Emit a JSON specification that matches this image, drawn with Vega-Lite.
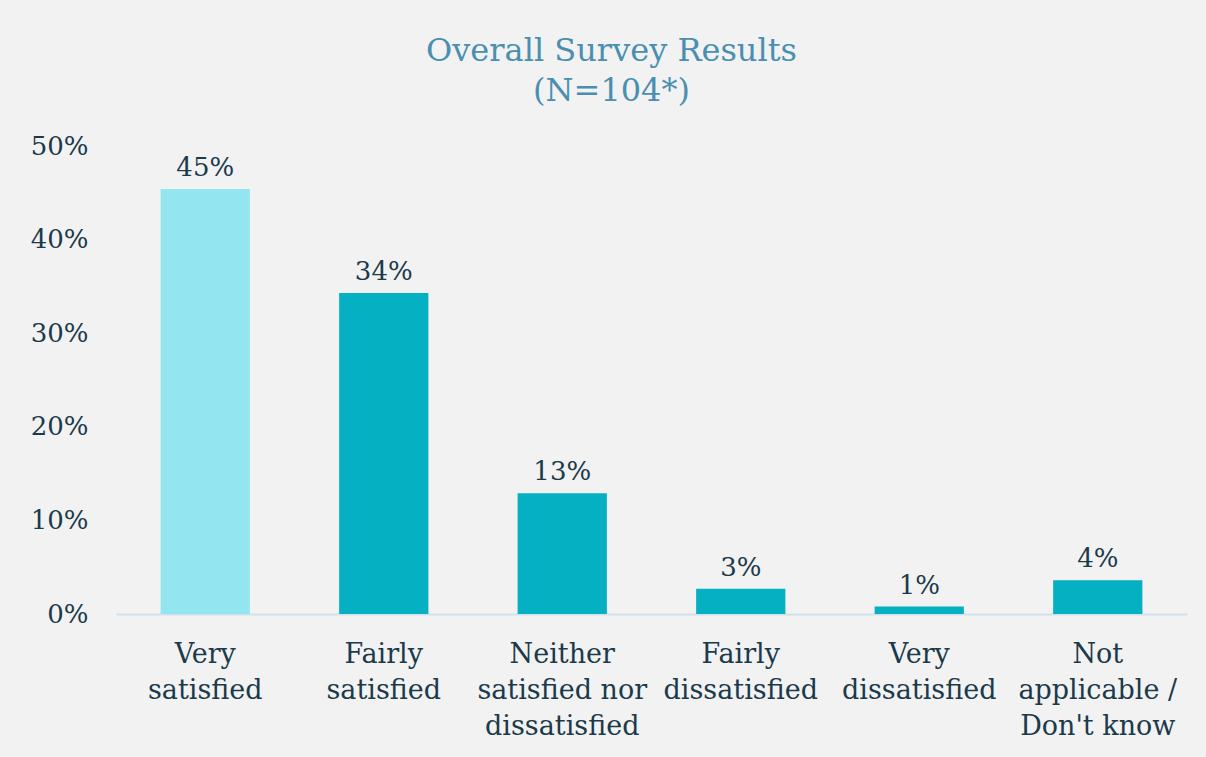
{
  "$schema": "https://vega.github.io/schema/vega-lite/v6.json",
  "autosize": {"type": "none"},
  "padding": {"left": 116, "top": 146, "right": 19, "bottom": 143},
  "width": 1071,
  "height": 468,
  "background": "#f2f2f2",
  "config": {"view": {"stroke": null}, "font": "DejaVu Serif"},
  "title": {
    "text": ["Overall Survey Results", "(N=104*)"],
    "font": "DejaVu Serif",
    "fontSize": 32,
    "fontWeight": "normal",
    "color": "#4a8fb0",
    "lineHeight": 40,
    "anchor": "middle",
    "dx": -40,
    "offset": 25
  },
  "data": {
    "values": [
      {"category": "Very satisfied", "value": 0.454, "group": "a"},
      {"category": "Fairly satisfied", "value": 0.343, "group": "b"},
      {"category": "Neither satisfied nor dissatisfied", "value": 0.129, "group": "b"},
      {"category": "Fairly dissatisfied", "value": 0.027, "group": "b"},
      {"category": "Very dissatisfied", "value": 0.008, "group": "b"},
      {"category": "Not applicable / Don't know", "value": 0.036, "group": "b"}
    ]
  },
  "encoding": {
    "x": {
      "field": "category",
      "type": "nominal",
      "sort": null,
      "scale": {"paddingInner": 0.5, "paddingOuter": 0.25},
      "axis": {
        "title": null,
        "labelAngle": 0,
        "labelFontSize": 27,
        "labelColor": "#1b3a4b",
        "labelFont": "DejaVu Serif",
        "labelLineHeight": 36,
        "labelPadding": 27,
        "labelLimit": 300,
        "ticks": false,
        "domainColor": "#cfe1ec",
        "domainWidth": 2,
        "labelExpr": "datum.value == 'Very satisfied' ? ['Very', 'satisfied'] : datum.value == 'Fairly satisfied' ? ['Fairly', 'satisfied'] : datum.value == 'Neither satisfied nor dissatisfied' ? ['Neither', 'satisfied nor', 'dissatisfied'] : datum.value == 'Fairly dissatisfied' ? ['Fairly', 'dissatisfied'] : datum.value == 'Very dissatisfied' ? ['Very', 'dissatisfied'] : ['Not', 'applicable /', 'Don\\'t know']"
      }
    },
    "y": {
      "field": "value",
      "type": "quantitative",
      "scale": {"domain": [0, 0.5], "nice": false},
      "axis": {
        "title": null,
        "values": [0, 0.1, 0.2, 0.3, 0.4, 0.5],
        "format": ".0%",
        "grid": false,
        "domain": false,
        "ticks": false,
        "labelFontSize": 26,
        "labelColor": "#1b3a4b",
        "labelFont": "DejaVu Serif",
        "labelPadding": 28
      }
    }
  },
  "layer": [
    {
      "mark": {"type": "bar"},
      "encoding": {
        "color": {
          "field": "group",
          "type": "nominal",
          "scale": {"domain": ["a", "b"], "range": ["#93e6f0", "#05b0c3"]},
          "legend": null
        }
      }
    },
    {
      "mark": {"type": "text", "baseline": "alphabetic", "dy": -13, "fontSize": 26, "color": "#1b3a4b", "font": "DejaVu Serif"},
      "encoding": {
        "text": {"field": "value", "type": "quantitative", "format": ".0%"}
      }
    }
  ]
}
